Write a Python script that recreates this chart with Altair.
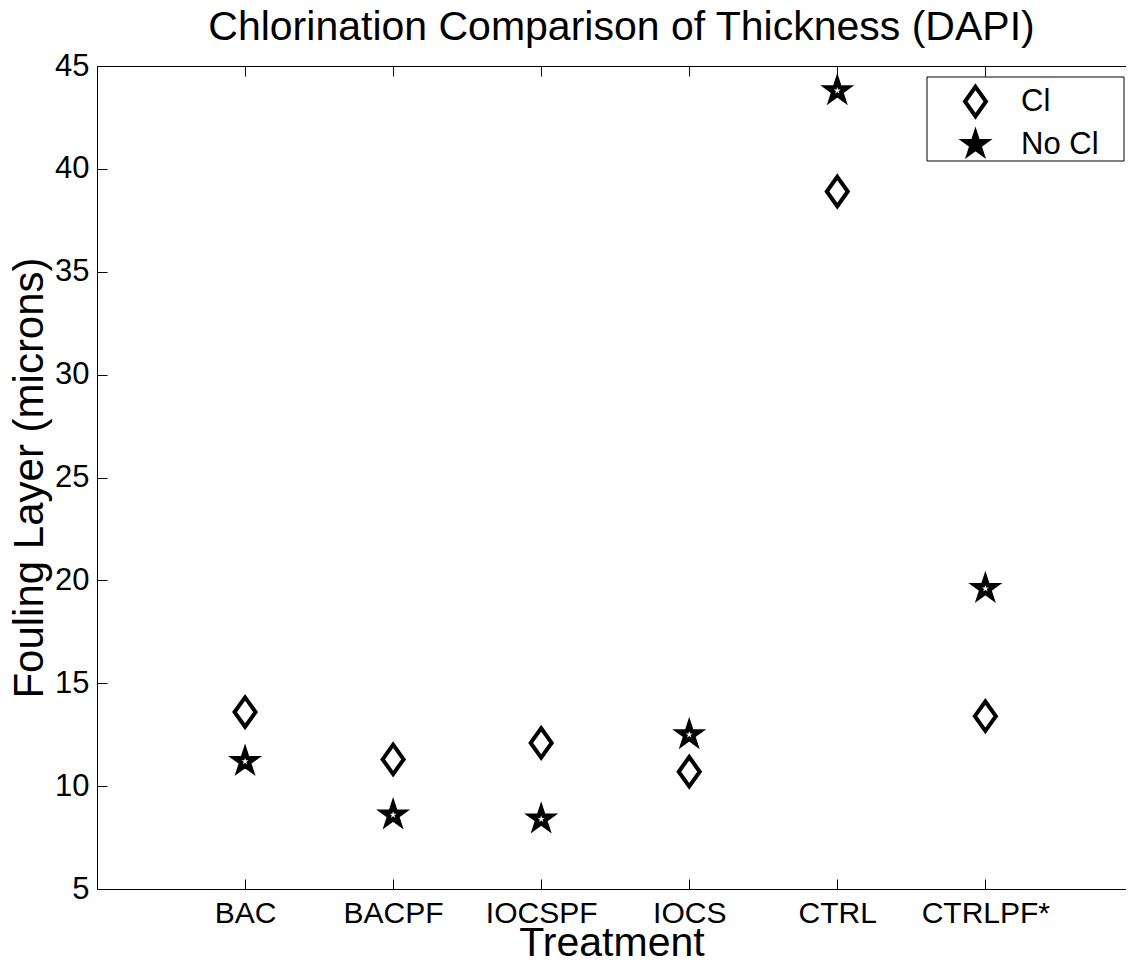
import math
import json
import altair as alt
import pandas as pd

# ---- data ----
categories = ["BAC", "BACPF", "IOCSPF", "IOCS", "CTRL", "CTRLPF*"]
cl_values = [13.6, 11.3, 12.1, 10.7, 38.9, 13.4]
no_cl_values = [11.2, 8.6, 8.4, 12.5, 43.8, 19.6]
series_names = ["Cl", "No Cl"]
y_ticks = [5, 10, 15, 20, 25, 30, 35, 40, 45]

rows = []
for i, cat in enumerate(categories):
    rows.append({"Treatment": cat, "pos": i + 1, "value": cl_values[i], "series": "Cl"})
    rows.append({"Treatment": cat, "pos": i + 1, "value": no_cl_values[i], "series": "No Cl"})
df = pd.DataFrame(rows)


def star_path(R, ratio=0.382):
    pts = []
    for k in range(10):
        ang = math.radians(-90 + 36 * k)
        r = R if k % 2 == 0 else R * ratio
        pts.append((r * math.cos(ang), r * math.sin(ang)))
    return "M" + "L".join(f"{x:.4f},{y:.4f}" for x, y in pts) + "Z"


DIAMOND = "M0,-1.4L1,0L0,1.4L-1,0Z"
STAR = star_path(1.09)
FONT = "Liberation Sans"

W, H = 1029, 823
x_scale = alt.Scale(domain=[0, 6.95], nice=False, zero=False)
y_scale = alt.Scale(domain=[5, 45], nice=False, zero=False)

label_expr = json.dumps([""] + categories + [""]) + "[round(datum.value)]"

x_bottom = alt.X(
    "pos:Q",
    scale=x_scale,
    axis=alt.Axis(
        orient="bottom",
        values=list(range(1, len(categories) + 1)),
        labelExpr=label_expr,
        title="Treatment",
        grid=True,
        gridDash=[10, H - 20, 10, 3000],
        gridColor="black",
        gridOpacity=1,
        gridWidth=1,
        ticks=False,
        domain=True,
        domainColor="black",
        domainWidth=1,
        labelFontSize=30,
        labelPadding=9,
        titleFontSize=41,
        titleBaseline="alphabetic",
        titleY=66,
    ),
)
x_top = alt.X(
    "pos:Q",
    scale=x_scale,
    axis=alt.Axis(
        orient="top",
        labels=False,
        ticks=False,
        grid=False,
        title=None,
        domain=True,
        domainColor="black",
        domainWidth=1,
    ),
)
y_enc = alt.Y(
    "value:Q",
    scale=y_scale,
    axis=alt.Axis(
        values=y_ticks,
        title="Fouling Layer (microns)",
        grid=True,
        gridDash=[10, 5000],
        gridColor="black",
        gridOpacity=1,
        gridWidth=1,
        ticks=False,
        domain=True,
        domainColor="black",
        domainWidth=1,
        labelFontSize=31,
        labelPadding=8,
        titleFontSize=42,
        titlePadding=3,
    ),
)

legend = alt.Legend(
    title=None,
    orient="none",
    legendX=830,
    legendY=20,
    padding=0,
    symbolOffset=33,
    labelOffset=30,
    labelFontSize=31,
    rowPadding=0,
    symbolSize=441,
    symbolStrokeWidth=4,
    symbolStrokeColor="black",
)

# legend frame (decoration, in plot pixels)
frame = alt.Chart(pd.DataFrame({"series": ["frame"]})).mark_rect(
    fill="white", stroke="black", strokeWidth=1
).encode(
    x=alt.value(830), x2=alt.value(1027), y=alt.value(11), y2=alt.value(95)
)

points = alt.Chart(df).mark_point(
    filled=True, size=441, strokeWidth=4, opacity=1
).encode(
    x=x_bottom,
    y=y_enc,
    shape=alt.Shape("series:N", scale=alt.Scale(domain=series_names, range=[DIAMOND, STAR]), legend=legend),
    fill=alt.Fill("series:N", scale=alt.Scale(domain=series_names, range=["white", "black"]), legend=legend),
    stroke=alt.Stroke("series:N", scale=alt.Scale(domain=series_names, range=["black", "black"]), legend=legend),
)

centers = alt.Chart(df).transform_filter(
    alt.datum.series == "No Cl"
).mark_point(
    filled=True, size=46, fill="white", strokeWidth=0, shape=STAR, opacity=1
).encode(x=x_top, y=y_enc)

chart = alt.layer(frame, points, centers).resolve_axis(x="independent").properties(
    width=W,
    height=H,
    title=alt.TitleParams(
        "Chlorination Comparison of Thickness (DAPI)",
        fontSize=41,
        font=FONT,
        fontWeight="normal",
        anchor="middle",
        color="black",
        offset=1,
        dx=10,
    ),
    autosize=alt.AutoSizeParams(type="none"),
    padding={"left": 89, "top": 58, "right": 0, "bottom": 74},
).configure(
    font=FONT,
).configure_view(
    stroke=None
).configure_axis(
    labelFont=FONT, titleFont=FONT, labelColor="black", titleColor="black",
    titleFontWeight="normal",
).configure_legend(
    labelFont=FONT, labelColor="black"
)

chart.save("out.html", embed_options={"renderer": "svg", "actions": False})
